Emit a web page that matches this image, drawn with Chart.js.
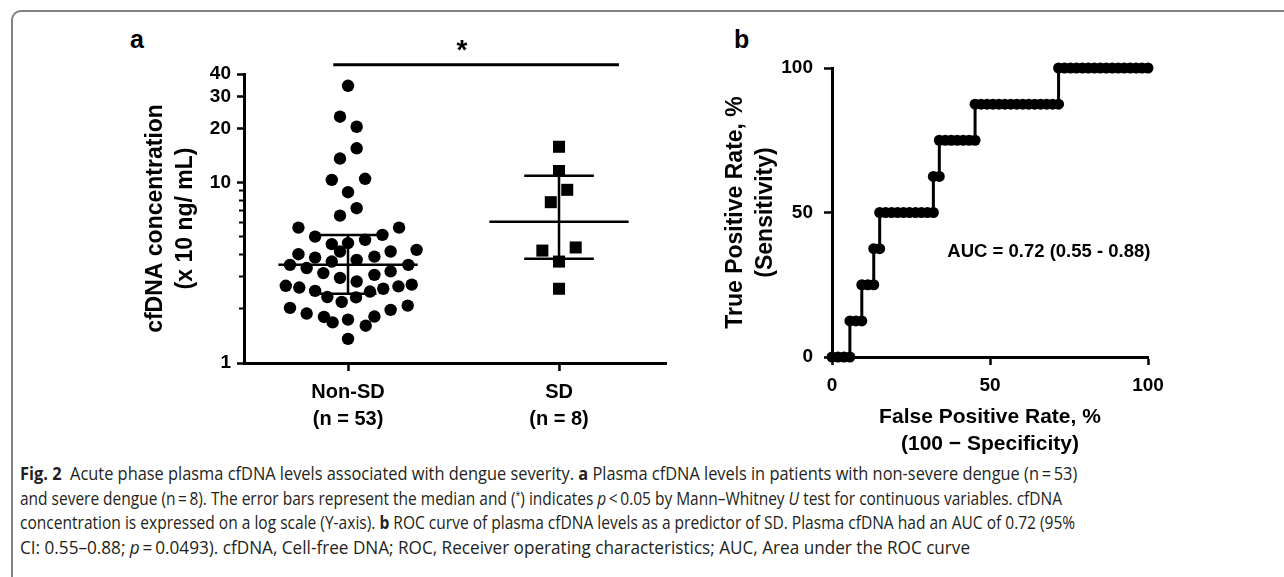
<!DOCTYPE html>
<html><head><meta charset="utf-8">
<script src="https://cdn.jsdelivr.net/npm/chart.js@4.4.1/dist/chart.umd.min.js"></script>
<style>
html,body{margin:0;padding:0;background:#fff;}
body{width:1284px;height:577px;position:relative;overflow:hidden;font-family:'Liberation Sans',Arial,sans-serif;}
#frame{position:absolute;left:11px;top:10px;width:1300px;height:600px;border-left:2px solid #808080;border-top:2px solid #808080;border-top-left-radius:10px;}
#ca{position:absolute;left:0;top:0;}
#cb{position:absolute;left:700px;top:0;}
.plab{position:absolute;font-weight:bold;font-size:25px;line-height:1;color:#000;}
#caption{position:absolute;left:20px;top:461px;font-family:'Open Sans',sans-serif;font-size:17.5px;line-height:24.5px;color:#231f20;white-space:nowrap;}
#caption .ln{display:inline-block;height:24.5px;transform-origin:0 0;}
#caption sup{font-size:10px;line-height:0;vertical-align:6px;}
</style></head>
<body>
<div id="frame"></div>
<div class="plab" style="left:130px;top:27px">a</div>
<div class="plab" style="left:734px;top:27px">b</div>
<canvas id="ca" width="700" height="450"></canvas>
<canvas id="cb" width="520" height="460"></canvas>
<div id="caption">
<span class="ln" data-w="1057"><b>Fig. 2</b>&nbsp; Acute phase plasma cfDNA levels associated with dengue severity. <b>a</b> Plasma cfDNA levels in patients with non-severe dengue (n&#8201;=&#8201;53)</span><br>
<span class="ln" data-w="1042">and severe dengue (n&#8201;=&#8201;8). The error bars represent the median and (<sup>*</sup>) indicates <i>p</i>&#8201;&lt;&#8201;0.05 by Mann–Whitney <i>U</i> test for continuous variables. cfDNA</span><br>
<span class="ln" data-w="1055">concentration is expressed on a log scale (Y-axis). <b>b</b> ROC curve of plasma cfDNA levels as a predictor of SD. Plasma cfDNA had an AUC of 0.72 (95%</span><br>
<span class="ln" data-w="950">CI: 0.55–0.88; <i>p</i>&#8201;=&#8201;0.0493). cfDNA, Cell-free DNA; ROC, Receiver operating characteristics; AUC, Area under the ROC curve</span>
</div>
<script>
// ---------- Data: panel a ----------
const groups = ['Non-SD', 'SD'];
const groupSizes = ['(n = 53)', '(n = 8)'];
const groupCenters = [1, 2];
const nonSdValues = [34.4, 23.2, 20.4, 15.5, 13.6, 10.35, 10.5, 8.85, 7.21, 6.56,
  5.63, 5.63, 5.02, 5.13, 4.56, 4.62, 4.82, 4.15, 4.01, 3.84,
  4.15, 4.24, 3.89, 3.65, 3.73, 3.50, 3.36, 3.50, 3.15, 3.22,
  3.08, 2.96, 2.83, 2.68, 2.62, 2.72, 2.66, 2.58, 2.51, 2.49,
  2.32, 2.31, 2.18, 2.02, 1.88, 2.08, 1.97, 1.80, 1.68, 1.74,
  1.81, 1.61, 1.36];
const nonSdSpread = [1.00, 0.962, 1.041, 1.041, 0.962, 0.923, 1.081, 1.00, 1.041, 0.962,
  0.765, 1.242, 0.844, 1.163, 0.923, 1.00, 1.081, 0.962, 0.765, 0.844,
  1.202, 1.325, 1.125, 0.923, 1.041, 0.725, 0.804, 1.286, 0.883, 1.202,
  1.125, 0.962, 1.041, 0.705, 0.769, 1.302, 1.239, 1.167, 0.844, 1.104,
  0.902, 1.038, 0.970, 0.725, 0.804, 1.283, 1.202, 0.886, 0.927, 1.00,
  1.125, 1.084, 1.00];
const sdValues = [15.8, 11.6, 9.12, 7.79, 4.20, 4.37, 3.65, 2.58];
const sdSpread = [2.00, 2.00, 2.039, 1.961, 1.921, 2.079, 2.00, 2.00];
const medians = [3.50, 6.06];
const lowerQuartiles = [2.42, 3.78];
const upperQuartiles = [5.13, 10.9];
const yMajorTicks = [1, 10, 20, 30, 40];
const yMinorTicks = [2, 3, 4, 5, 6, 7, 8, 9];

// ---------- Data: panel b ----------
const rocFpr = [0, 1.89, 3.77, 5.66,
  5.66, 7.55, 9.43,
  9.43, 11.32, 13.21,
  13.21, 15.09,
  15.09, 16.98, 18.87, 20.75, 22.64, 24.53, 26.42, 28.30, 30.19, 32.08,
  32.08, 33.96,
  33.96, 35.85, 37.74, 39.62, 41.51, 43.40, 45.28,
  45.28, 47.17, 49.06, 50.94, 52.83, 54.72, 56.60, 58.49, 60.38, 62.26, 64.15, 66.04, 67.92, 69.81, 71.70,
  71.70, 73.58, 75.47, 77.36, 79.25, 81.13, 83.02, 84.91, 86.79, 88.68, 90.57, 92.45, 94.34, 96.23, 98.11, 100];
const rocSens = [0, 0, 0, 0,
  12.5, 12.5, 12.5,
  25, 25, 25,
  37.5, 37.5,
  50, 50, 50, 50, 50, 50, 50, 50, 50, 50,
  62.5, 62.5,
  75, 75, 75, 75, 75, 75, 75,
  87.5, 87.5, 87.5, 87.5, 87.5, 87.5, 87.5, 87.5, 87.5, 87.5, 87.5, 87.5, 87.5, 87.5, 87.5,
  100, 100, 100, 100, 100, 100, 100, 100, 100, 100, 100, 100, 100, 100, 100, 100];
const rocTicks = [0, 50, 100];
const aucText = 'AUC = 0.72 (0.55 - 0.88)';

// ---------- Styling ----------
const FONT = "'Liberation Sans', Arial, sans-serif";
const tickFont = {family: FONT, size: 19, weight: 'bold', lineHeight: 1.3};
const catFont = {family: FONT, size: 20, weight: 'bold', lineHeight: 1.35};
const yTitleFont = {family: FONT, size: 23, weight: 'bold', lineHeight: 1.3};
const xTitleFont = {family: FONT, size: 21, weight: 'bold', lineHeight: 1.3};
Chart.defaults.color = '#000';
Chart.defaults.font.family = FONT;

// error bars built from the stats
const medianHalf = 0.33, capHalf = [0.135, 0.165];
const errPts = [];
groupCenters.forEach((c, i) => {
  errPts.push({x: c - medianHalf, y: medians[i]}, {x: c + medianHalf, y: medians[i]}, {x: c, y: null});
  errPts.push({x: c, y: lowerQuartiles[i]}, {x: c, y: upperQuartiles[i]}, {x: c, y: null});
  errPts.push({x: c - capHalf[i], y: upperQuartiles[i]}, {x: c + capHalf[i], y: upperQuartiles[i]}, {x: c, y: null});
  errPts.push({x: c - capHalf[i], y: lowerQuartiles[i]}, {x: c + capHalf[i], y: lowerQuartiles[i]}, {x: c, y: null});
});
const sigFrom = 0.93, sigTo = 2.284, sigLevel = 45, starX = 1.54;

const starPlugin = {
  id: 'star',
  afterDatasetsDraw(chart) {
    const {ctx, scales: {x, y}} = chart;
    ctx.save();
    ctx.fillStyle = '#000';
    ctx.font = 'bold 28px ' + FONT;
    ctx.textAlign = 'center';
    ctx.textBaseline = 'middle';
    ctx.fillText('*', x.getPixelForValue(starX), y.getPixelForValue(sigLevel) - 13);
    ctx.restore();
  }
};

new Chart(document.getElementById('ca'), {
  type: 'scatter',
  data: {
    datasets: [
      {data: errPts, showLine: true, spanGaps: false, borderColor: '#000', borderWidth: 2.5, pointRadius: 0, clip: false},
      {data: [{x: sigFrom, y: sigLevel}, {x: sigTo, y: sigLevel}], showLine: true, borderColor: '#000', borderWidth: 3, pointRadius: 0, clip: false},
      {data: nonSdValues.map((v, i) => ({x: nonSdSpread[i], y: v})), pointStyle: 'circle', pointRadius: 6.2, backgroundColor: '#000', borderWidth: 0, clip: false},
      {data: sdValues.map((v, i) => ({x: sdSpread[i], y: v})), pointStyle: 'rect', pointRadius: 8.5, backgroundColor: '#000', borderWidth: 0, clip: false}
    ]
  },
  options: {
    responsive: false, animation: false, devicePixelRatio: 1,
    layout: {padding: {top: 74, left: 141, right: 34, bottom: 0}},
    plugins: {legend: {display: false}, tooltip: {enabled: false}},
    scales: {
      x: {
        type: 'linear', min: 0.507, max: 2.507,
        afterBuildTicks: s => { s.ticks = groupCenters.map(v => ({value: v})); },
        afterFit: s => { s.height = 87; },
        ticks: {callback: (v, i) => [groups[i], groupSizes[i]], font: catFont, color: '#000', padding: 7.5, maxRotation: 0, autoSkip: false},
        grid: {drawOnChartArea: false, tickLength: 8, tickWidth: 2.5, tickColor: '#000'},
        border: {color: '#000', width: 3}
      },
      y: {
        type: 'logarithmic', min: 1, max: 40, position: 'left', weight: 1,
        afterBuildTicks: s => { s.ticks = yMajorTicks.map(v => ({value: v})); },
        afterFit: s => { s.width = 103; },
        ticks: {callback: v => String(v), font: tickFont, color: '#000', padding: 6, autoSkip: false},
        grid: {drawOnChartArea: false, tickLength: 7, tickWidth: 2.5, tickColor: '#000'},
        border: {color: '#000', width: 3},
        title: {display: true, text: ['cfDNA concentration', '(x 10 ng/ mL)'], font: yTitleFont, color: '#000', padding: {top: 0, bottom: 0}}
      },
      yMinor: {
        type: 'logarithmic', min: 1, max: 40, position: 'left', weight: 0,
        afterBuildTicks: s => { s.ticks = yMinorTicks.map(v => ({value: v})); },
        afterFit: s => { s.width = 0; },
        ticks: {display: false},
        grid: {drawOnChartArea: false, tickLength: 5, tickWidth: 2, tickColor: '#000'},
        border: {display: false}
      }
    }
  },
  plugins: [starPlugin]
});

const aucX = 36.5, aucY = 36.5;
const aucPlugin = {
  id: 'auc',
  afterDatasetsDraw(chart) {
    const {ctx, scales: {x, y}} = chart;
    ctx.save();
    ctx.fillStyle = '#000';
    ctx.font = 'bold 18.5px ' + FONT;
    ctx.textAlign = 'left';
    ctx.textBaseline = 'middle';
    ctx.fillText(aucText, x.getPixelForValue(aucX), y.getPixelForValue(aucY));
    ctx.restore();
  }
};

new Chart(document.getElementById('cb'), {
  type: 'scatter',
  data: {
    datasets: [{
      data: rocFpr.map((f, i) => ({x: f, y: rocSens[i]})),
      showLine: true, borderColor: '#000', borderWidth: 3,
      pointStyle: 'circle', pointRadius: 5.5, backgroundColor: '#000', pointBorderWidth: 0, clip: false
    }]
  },
  options: {
    responsive: false, animation: false, devicePixelRatio: 1,
    layout: {padding: {top: 68, left: 21, right: 72, bottom: 0}},
    plugins: {legend: {display: false}, tooltip: {enabled: false}},
    scales: {
      x: {
        type: 'linear', min: 0, max: 100,
        afterBuildTicks: s => { s.ticks = rocTicks.map(v => ({value: v})); },
        afterFit: s => { s.height = 103; },
        ticks: {font: tickFont, color: '#000', padding: 8, maxRotation: 0, autoSkip: false},
        grid: {drawOnChartArea: false, tickLength: 8, tickWidth: 2.5, tickColor: '#000'},
        border: {color: '#000', width: 3},
        title: {display: true, text: ['False Positive Rate, %', '(100 \u2212 Specificity)'], font: xTitleFont, color: '#000', padding: {top: 0, bottom: 2}}
      },
      y: {
        type: 'linear', min: 0, max: 100,
        afterBuildTicks: s => { s.ticks = rocTicks.map(v => ({value: v})); },
        afterFit: s => { s.width = 111; },
        ticks: {font: tickFont, color: '#000', padding: 11, autoSkip: false},
        grid: {drawOnChartArea: false, tickLength: 8, tickWidth: 2.5, tickColor: '#000'},
        border: {color: '#000', width: 3},
        title: {display: true, text: ['True Positive Rate, %', '(Sensitivity)'], font: yTitleFont, color: '#000', padding: {top: 0, bottom: 0}}
      }
    }
  },
  plugins: [aucPlugin]
});

// fit each caption line to its width in the figure (offsetWidth ignores transforms)
function fitCaption() {
  document.querySelectorAll('#caption .ln').forEach(el => {
    el.style.transform = 'scaleX(' + (Number(el.dataset.w) / el.offsetWidth) + ')';
  });
}
fitCaption();
if (document.fonts && document.fonts.ready) { document.fonts.ready.then(fitCaption); }
</script>
</body></html>
